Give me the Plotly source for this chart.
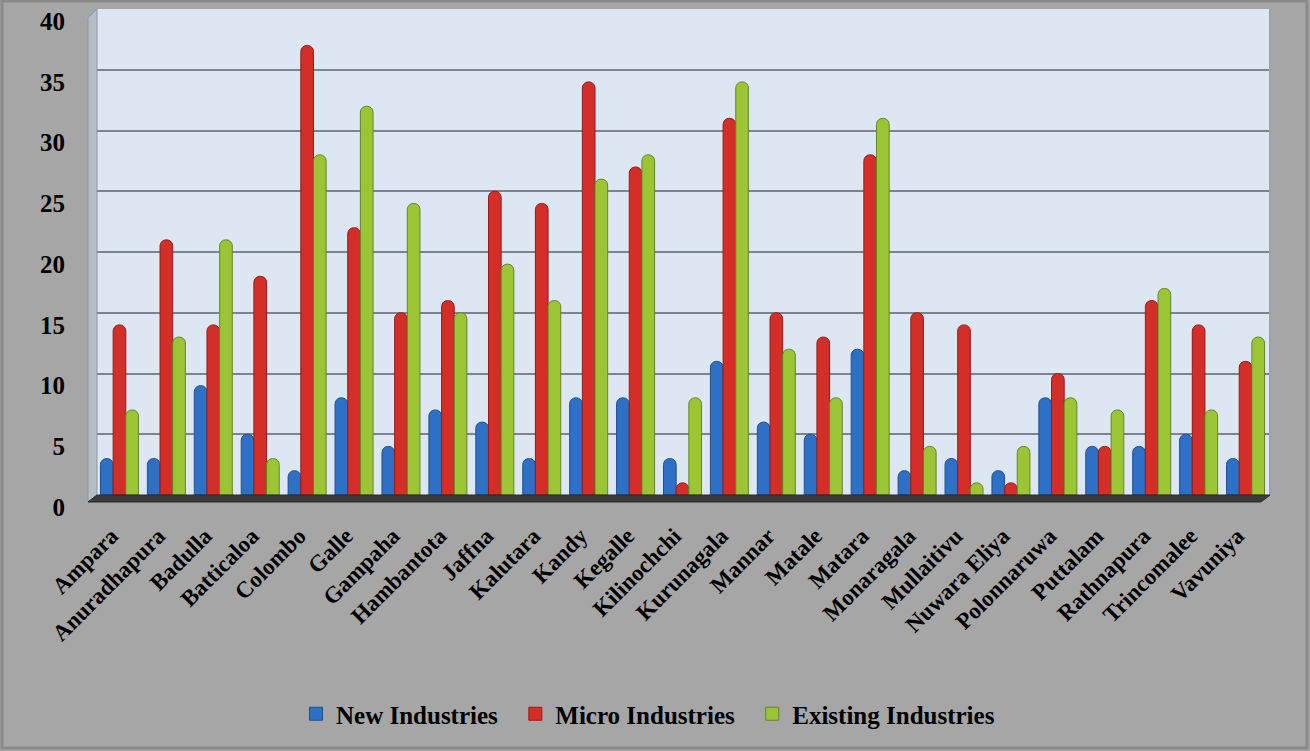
import plotly.graph_objects as go

districts = ["Ampara", "Anuradhapura", "Badulla", "Batticaloa", "Colombo", "Galle", "Gampaha",
             "Hambantota", "Jaffna", "Kalutara", "Kandy", "Kegalle", "Kilinochchi", "Kurunagala",
             "Mannar", "Matale", "Matara", "Monaragala", "Mullaitivu", "Nuwara Eliya",
             "Polonnaruwa", "Puttalam", "Rathnapura", "Trincomalee", "Vavuniya"]
new_ind = [3, 3, 9, 5, 2, 8, 4, 7, 6, 3, 8, 8, 3, 11, 6, 5, 12, 2, 3, 2, 8, 4, 4, 5, 3]
micro_ind = [14, 21, 14, 18, 37, 22, 15, 16, 25, 24, 34, 27, 1, 31, 15, 13, 28, 15, 14, 1, 10, 4, 16, 14, 11]
existing_ind = [7, 13, 21, 3, 28, 32, 24, 15, 19, 16, 26, 28, 8, 34, 12, 8, 31, 4, 1, 4, 8, 7, 17, 7, 13]
y_ticks = [0, 5, 10, 15, 20, 25, 30, 35, 40]

W, H = 1310, 751
ML, MR, MT, MB = 96, 41, 9, 256
pw = W - ML - MR
ph = H - MT - MB

FONT = "Liberation Serif"


def px_x(x):
    return (x - ML) / pw


def px_y(y):
    return (H - MB - y) / ph


fig = go.Figure()
series = [
    ("New Industries", new_ind, "#2e70c6", "#1f4f90"),
    ("Micro Industries", micro_ind, "#d42e29", "#951c18"),
    ("Existing Industries", existing_ind, "#9cc536", "#66842a"),
]
pad = "\u00a0" * 2
for name, vals, col, line in series:
    fig.add_trace(go.Bar(
        x=districts, y=vals, name=name, showlegend=False,
        marker=dict(color=col, line=dict(color=line, width=1)),
    ))
for name, vals, col, line in series:
    fig.add_trace(go.Scatter(
        x=[None], y=[None], mode="markers", name=name + pad, showlegend=True,
        marker=dict(symbol="square", size=13, color=col, line=dict(color=line, width=1)),
    ))

# outer frame
fig.add_shape(type="rect", xref="paper", yref="paper",
              x0=px_x(2), x1=px_x(W - 3), y0=px_y(H - 3), y1=px_y(1),
              line=dict(color="#8a8a8a", width=3), fillcolor="rgba(0,0,0,0)", layer="below")
# 3D left wall
fig.add_shape(type="path", xref="paper", yref="paper",
              path=f"M {px_x(88)} {px_y(18)} L {px_x(97)} {px_y(9)} L {px_x(97)} {px_y(495)} "
                   f"L {px_x(88)} {px_y(502)} Z",
              line=dict(color="#8f98a3", width=1), fillcolor="#b4bec9", layer="above")
# 3D floor
fig.add_shape(type="path", xref="paper", yref="paper",
              path=f"M {px_x(88)} {px_y(502)} L {px_x(97)} {px_y(495)} L {px_x(1270)} {px_y(495)} "
                   f"L {px_x(1261)} {px_y(502)} Z",
              line=dict(color="#2a2a2a", width=1), fillcolor="#3a3a3a", layer="above")

fig.update_layout(
    width=W, height=H,
    margin=dict(l=ML, r=MR, t=MT, b=MB, pad=0),
    paper_bgcolor="#a6a6a6",
    plot_bgcolor="#dde7f3",
    barmode="group",
    bargap=0.19,
    bargroupgap=0.0,
    barcornerradius=6,
    font=dict(family=FONT, color="black", weight="bold"),
    showlegend=True,
    legend=dict(orientation="h", x=px_x(654), xanchor="center", y=px_y(714), yanchor="middle",
                font=dict(family=FONT, size=25, color="black", weight="bold"),
                bgcolor="rgba(0,0,0,0)", traceorder="normal", itemwidth=30),
    xaxis=dict(
        tickangle=-45, tickfont=dict(family=FONT, size=23, color="black", weight="bold"),
        showgrid=False, showline=False, ticks="", automargin=False,
        ticklabelstandoff=22, ticklabelshift=-8,
    ),
    yaxis=dict(
        range=[0, 40], tickvals=y_ticks,
        tickfont=dict(family=FONT, size=25, color="black", weight="bold"),
        showgrid=True, gridcolor="#7d838c", gridwidth=2,
        zeroline=False, showline=True, mirror=True, linecolor="#9aa3ad", linewidth=2,
        ticks="", ticklabelstandoff=24, ticklabelshift=12, automargin=False,
    ),
)

fig.write_html("out.html",
               config={"displayModeBar": False},
               post_script="document.body.style.margin='0';document.body.style.padding='0';"
                           "document.documentElement.style.overflow='hidden';")
